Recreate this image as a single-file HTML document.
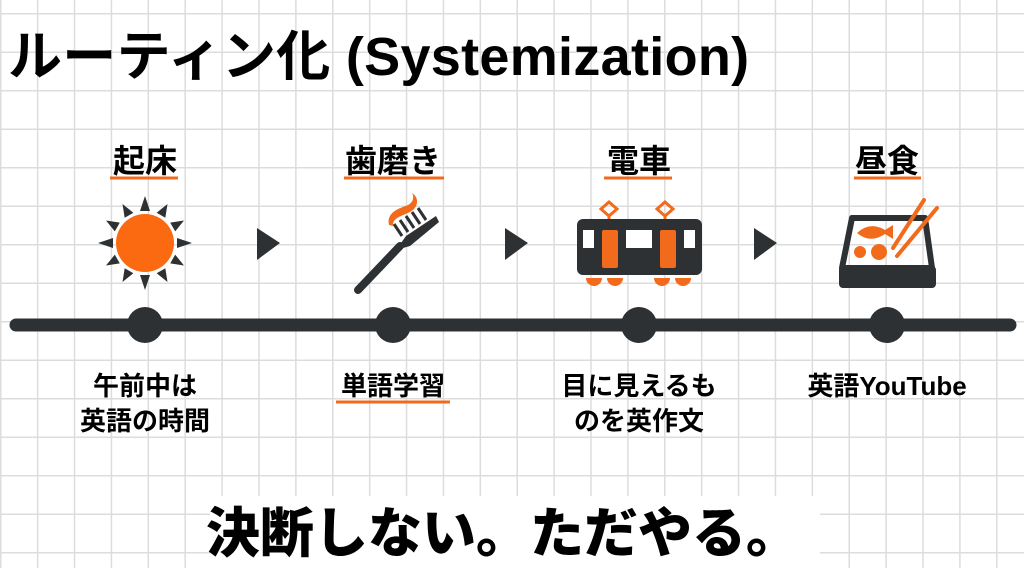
<!DOCTYPE html>
<html><head><meta charset="utf-8"><style>
html,body{margin:0;padding:0}
body{width:1024px;height:568px;overflow:hidden;background:#fff;position:relative;font-family:"Liberation Sans","Noto Sans CJK JP",sans-serif;}
.grid{position:absolute;inset:0;background-image:linear-gradient(to right,#dcdcdc 1.5px,transparent 1.5px),linear-gradient(to bottom,#dcdcdc 1.5px,transparent 1.5px);background-size:36.9px 38.5px;background-position:0px 13px;}
.t{position:absolute;font-weight:bold;color:#000;white-space:nowrap;}
</style></head><body>
<div class="grid"></div>
<div class="t" style="left:8px;top:12px;font-size:54px;letter-spacing:0.3px;">ルーティン化 (Systemization)</div>
<svg width="1024" height="568" style="position:absolute;left:0;top:0">
<g font-family="Liberation Sans, Noto Sans CJK JP, sans-serif" font-weight="bold" text-anchor="middle">
<text x="145" y="172" font-size="32">起床</text>
<text x="393" y="172" font-size="32">歯磨き</text>
<text x="639" y="172" font-size="32">電車</text>
<text x="887" y="172" font-size="32">昼食</text>
<text x="145" y="395" font-size="26">午前中は</text>
<text x="145" y="430" font-size="26">英語の時間</text>
<text x="393" y="395" font-size="26">単語学習</text>
<text x="639" y="395" font-size="26">目に見えるも</text>
<text x="639" y="430" font-size="26">のを英作文</text>
<text x="887" y="395" font-size="26">英語YouTube</text>
</g>
<g stroke="#f26b1d" stroke-width="3">
<line x1="110" y1="178" x2="178" y2="178"/><line x1="344" y1="178" x2="444" y2="178"/>
<line x1="604" y1="178" x2="672" y2="178"/><line x1="854" y1="178" x2="921" y2="178"/>
<line x1="336" y1="402" x2="450" y2="402"/>
</g>
<line x1="16" y1="325" x2="1010" y2="325" stroke="#2e3133" stroke-width="13" stroke-linecap="round"/>
<g fill="#2e3133"><circle cx="145" cy="325" r="18"/><circle cx="393" cy="325" r="18"/><circle cx="639" cy="325" r="18"/><circle cx="887" cy="325" r="18"/>
<polygon points="257,228 280,243 257,260"/><polygon points="505,228 528,243 505,260"/><polygon points="754,228 777,243 754,260"/>
</g>
<!-- sun -->
<g transform="translate(145,243)">
<g fill="#2e3133">
<polygon points="-5,-32 5,-32 0,-47"/><polygon points="-5,32 5,32 0,47"/><polygon points="-32,-5 -32,5 -47,0"/><polygon points="32,-5 32,5 47,0"/>
<g transform="rotate(30)"><polygon points="-5,-32 5,-32 0,-45"/><polygon points="-5,32 5,32 0,45"/><polygon points="-32,-5 -32,5 -45,0"/><polygon points="32,-5 32,5 45,0"/></g>
<g transform="rotate(60)"><polygon points="-5,-32 5,-32 0,-45"/><polygon points="-5,32 5,32 0,45"/><polygon points="-32,-5 -32,5 -45,0"/><polygon points="32,-5 32,5 45,0"/></g>
</g>
<circle r="29" fill="#fb6a10"/>
</g>
<!-- toothbrush -->
<g>
<line x1="358" y1="290" x2="400" y2="246" stroke="#2e3133" stroke-width="8" stroke-linecap="round"/>
<polygon points="396,250 406,236 436,216 439,222 410,246" fill="#2e3133"/>
<g stroke="#2e3133" stroke-width="3"><line x1="402" y1="236" x2="394" y2="224"/><line x1="408" y1="232" x2="400" y2="220"/><line x1="414" y1="228" x2="406" y2="216"/><line x1="420" y1="224" x2="412" y2="212"/><line x1="426" y1="220" x2="418" y2="208"/></g>
<path d="M389,225 C386,212 400,208 408,205 C414,202 414,196 412,193 C420,198 418,208 410,212 C402,216 392,218 393,226 Z" fill="#f26b1d"/>
</g>
<!-- train -->
<g>
<g fill="none" stroke="#f26b1d" stroke-width="3"><polygon points="609,202 617,209 609,216 601,209"/><polygon points="665,202 673,209 665,216 657,209"/></g>
<line x1="609" y1="216" x2="609" y2="220" stroke="#f26b1d" stroke-width="3"/><line x1="665" y1="216" x2="665" y2="220" stroke="#f26b1d" stroke-width="3"/>
<rect x="577" y="219" width="125" height="56" rx="6" fill="#2e3133"/>
<rect x="583" y="230" width="11" height="18" fill="#fff"/><rect x="626" y="230" width="26" height="18" fill="#fff"/><rect x="684" y="230" width="11" height="18" fill="#fff"/>
<rect x="602" y="230" width="16" height="38" rx="2" fill="#f26b1d"/><rect x="660" y="230" width="16" height="38" rx="2" fill="#f26b1d"/>
<g fill="#f26b1d"><path d="M586,278 h16 a8,8 0 0 1 -16,0z"/><path d="M607,278 h16 a8,8 0 0 1 -16,0z"/><path d="M654,278 h16 a8,8 0 0 1 -16,0z"/><path d="M675,278 h16 a8,8 0 0 1 -16,0z"/></g>
</g>
<!-- bento -->
<g>
<path d="M852,218 L925,218 L932,268 L842,268 Z" fill="none" stroke="#2e3133" stroke-width="6" stroke-linejoin="round"/>
<rect x="839" y="266" width="97" height="22" rx="4" fill="#2e3133"/>
<path d="M857,233 q13,-12 28,-3 l8,-5 v14 l-8,-5 q-15,10 -28,-1z" fill="#f26b1d"/>
<circle cx="860" cy="252" r="6" fill="#f26b1d"/><circle cx="879" cy="252" r="8" fill="#f26b1d"/>
<line x1="893" y1="248" x2="924" y2="200" stroke="#f26b1d" stroke-width="4" stroke-linecap="round"/>
<line x1="897" y1="256" x2="937" y2="208" stroke="#f26b1d" stroke-width="4" stroke-linecap="round"/>
</g>
<rect x="210" y="496" width="610" height="72" fill="#fff"/>
<text x="503" y="552" text-anchor="middle" font-family="Liberation Sans, Noto Sans CJK JP, sans-serif" font-weight="900" font-size="54">決断しない。ただやる。</text>
</svg>
</body></html>
